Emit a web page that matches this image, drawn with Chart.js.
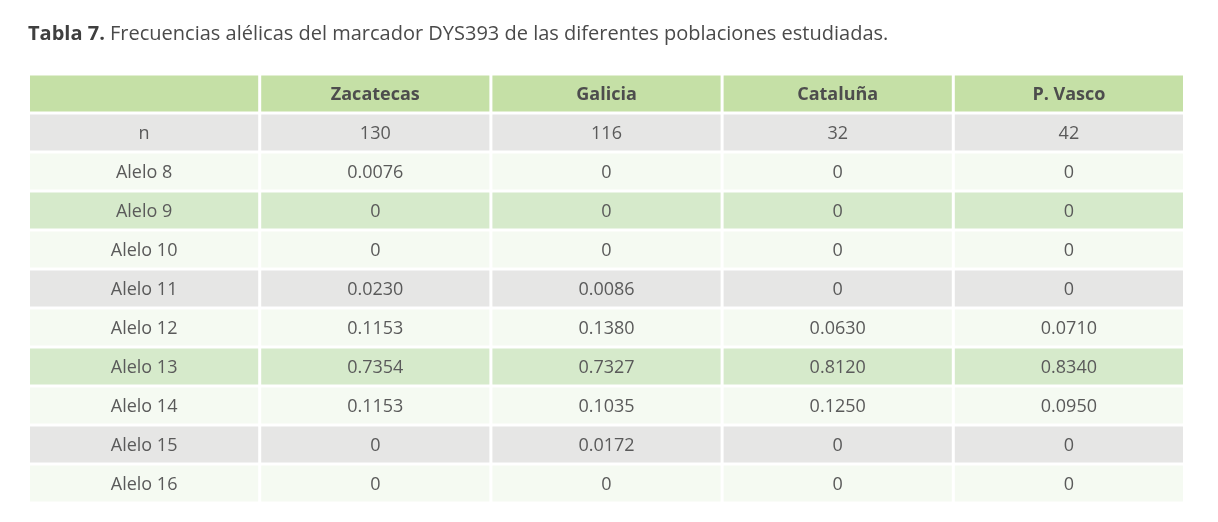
<!DOCTYPE html>
<html><head><meta charset="UTF-8"><title>Tabla 7</title>
<style>
body { margin: 0; background: #fff; font-family: "Open Sans", Arial, sans-serif; }
.wrap { position: relative; width: 1218px; height: 522px; }
.titulo { position: absolute; left: 28px; top: 19px; font-size: 20px; color: #4a4a4a; }
.titulo b { color: #3f3f3f; }
canvas { position: absolute; left: 0; top: 0; }
</style>
<script src="https://cdn.jsdelivr.net/npm/chart.js"></script>
</head>
<body>
<div class="wrap">
  <canvas id="tabla" width="1218" height="522"></canvas>
  <div class="titulo"><b>Tabla 7.</b> Frecuencias alélicas del marcador DYS393 de las diferentes poblaciones estudiadas.</div>
</div>
<script>
// columnas y filas de la tabla
const columnas = ['', 'Zacatecas', 'Galicia', 'Cataluña', 'P. Vasco'];
const filas = ['n', 'Alelo 8', 'Alelo 9', 'Alelo 10', 'Alelo 11', 'Alelo 12', 'Alelo 13', 'Alelo 14', 'Alelo 15', 'Alelo 16'];
const zacatecas = ['130', '0.0076', '0', '0', '0.0230', '0.1153', '0.7354', '0.1153', '0', '0'];
const galicia   = ['116', '0', '0', '0', '0.0086', '0.1380', '0.7327', '0.1035', '0.0172', '0'];
const cataluna  = ['32', '0', '0', '0', '0', '0.0630', '0.8120', '0.1250', '0', '0'];
const pvasco    = ['42', '0', '0', '0', '0', '0.0710', '0.8340', '0.0950', '0', '0'];

const colHeader = '#c5e0a6';
const colores = ['#e6e6e5', '#f5faf2', '#d6eacb', '#f5faf2']; // ciclo de filas

const todasFilas = ['__hdr'].concat(filas);
const valores = [filas, zacatecas, galicia, cataluna, pvasco];
const gap = 0.0065;

const datasets = columnas.map((c, ci) => ({
    label: c || 'etiqueta',
    data: todasFilas.map(() => [ci + gap, ci + 1 - gap]),
    backgroundColor: todasFilas.map((f, ri) => ri === 0 ? colHeader : colores[(ri - 1) % 4]),
    borderWidth: 0,
    grouped: false,
    barPercentage: 1,
    categoryPercentage: 0.925
}));

const textos = {
    id: 'textos',
    afterDatasetsDraw(chart) {
        const ctx = chart.ctx;
        const x = chart.scales.x, y = chart.scales.y;
        ctx.save();
        ctx.textAlign = 'center';
        ctx.textBaseline = 'middle';
        todasFilas.forEach((f, ri) => {
            const py = y.getPixelForValue(ri) + 1;
            columnas.forEach((c, ci) => {
                const px = x.getPixelForValue(ci + 0.5);
                let t;
                if (ri === 0) {
                    t = c;
                    ctx.font = 'bold 18px "Open Sans"';
                    ctx.fillStyle = '#4d4d4d';
                } else {
                    t = valores[ci][ri - 1];
                    ctx.font = '18px "Open Sans"';
                    ctx.fillStyle = '#5a5a5a';
                }
                ctx.fillText(t, px, py);
            });
        });
        ctx.restore();
    }
};

new Chart(document.getElementById('tabla'), {
    type: 'bar',
    data: { labels: todasFilas, datasets: datasets },
    options: {
        indexAxis: 'y',
        responsive: false,
        animation: false,
        layout: { padding: { left: 28.5, right: 33.5, top: 74, bottom: 19 } },
        scales: {
            x: { type: 'linear', min: 0, max: 5, display: false },
            y: { type: 'category', display: false, offset: true }
        },
        plugins: { legend: { display: false }, tooltip: { enabled: false } }
    },
    plugins: [textos]
});
</script>
</body></html>
